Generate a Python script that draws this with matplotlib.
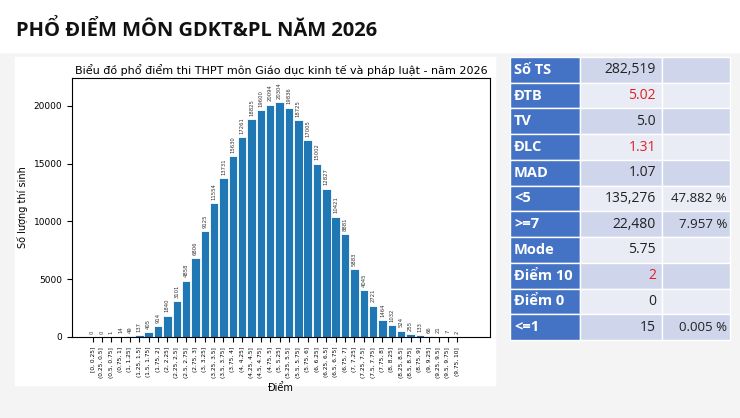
import matplotlib
matplotlib.use("Agg")
import matplotlib.pyplot as plt
from matplotlib.patches import Rectangle

bins = ["[0, 0.25]"] + [f"({a:g}, {a+0.25:g}]" for a in [i*0.25 for i in range(1, 40)]]
counts = [0, 0, 1, 14, 49, 137, 405, 914, 1840, 3101, 4858, 6806, 9125, 11554, 13731,
          15630, 17261, 18825, 19600, 20094, 20304, 19836, 18725, 17005, 15002, 12827,
          10421, 8881, 5883, 4045, 2721, 1464, 1032, 524, 255, 133, 66, 21, 7, 2]
row_labels = ["Số TS", "ĐTB", "TV", "ĐLC", "MAD", "<5", ">=7", "Mode", "Điểm 10", "Điểm 0", "<=1"]
row_vals = ["282,519", "5.02", "5.0", "1.31", "1.07", "135,276", "22,480", "5.75", "2", "0", "15"]
row_pct = ["", "", "", "", "", "47.882 %", "7.957 %", "", "", "", "0.005 %"]
red_rows = {1, 3, 8}

W, H = 740, 418
fig = plt.figure(figsize=(7.4, 4.18), dpi=100)
fig.patch.set_facecolor("#f4f4f4")

bg = fig.add_axes([0, 0, 1, 1]); bg.set_xlim(0, W); bg.set_ylim(H, 0); bg.axis("off")
bg.add_patch(Rectangle((0, 0), W, 52, color="white"))
bg.text(16, 31, "PHỔ ĐIỂM MÔN GDKT&PL NĂM 2026", fontsize=14.5, fontweight="bold",
        family="Open Sans", va="center", color="#111111")
bg.add_patch(Rectangle((15, 57), 480, 328, color="white"))

xs = [510, 580, 662, 730]
y0, rh = 57, (340 - 57) / 11
for i in range(11):
    y = y0 + i * rh
    light = "#cfd5ea" if i % 2 == 0 else "#e9ebf5"
    bg.add_patch(Rectangle((xs[0], y), xs[1]-xs[0], rh, facecolor="#4472c4", edgecolor="white", lw=1))
    bg.add_patch(Rectangle((xs[1], y), xs[2]-xs[1], rh, facecolor=light, edgecolor="white", lw=1))
    bg.add_patch(Rectangle((xs[2], y), xs[3]-xs[2], rh, facecolor=light, edgecolor="white", lw=1))
    bg.text(xs[0]+4, y+rh/2, row_labels[i], color="white", fontweight="bold", fontsize=10.5,
            family="Open Sans", va="center")
    bg.text(xs[2]-6, y+rh/2, row_vals[i], color="#e02020" if i in red_rows else "#222222",
            fontsize=10, family="Open Sans", va="center", ha="right")
    if row_pct[i]:
        bg.text(xs[3]-3, y+rh/2, row_pct[i], color="#222222", fontsize=9.5,
                family="Open Sans", va="center", ha="right")

ax = fig.add_axes([72/W, 1-337/H, (490-72)/W, (337-78)/H])
x = range(len(counts))
ax.bar(x, counts, color="#1f77b4", edgecolor="white", linewidth=0.6, width=0.9)
for xi, c in zip(x, counts):
    ax.text(xi, c + 300, str(c), rotation=90, ha="center", va="bottom", fontsize=3.8, color="#333333")
ax.set_xticks(list(x))
ax.set_xticklabels(bins, rotation=90, fontsize=4.2)
ax.set_xlim(-2.2, 42.5)
ax.set_ylim(0, 22400)
ax.set_yticks(range(0, 20001, 5000))
ax.tick_params(axis="y", labelsize=6.5)
ax.set_xlabel("Điểm", fontsize=7)
ax.set_ylabel("Số lượng thí sinh", fontsize=7)
ax.set_title("Biểu đồ phổ điểm thi THPT môn Giáo dục kinh tế và pháp luật - năm 2026", fontsize=8, pad=3)
for s in ax.spines.values():
    s.set_linewidth(0.8)

fig.savefig("out.png", dpi=100, facecolor=fig.get_facecolor())
